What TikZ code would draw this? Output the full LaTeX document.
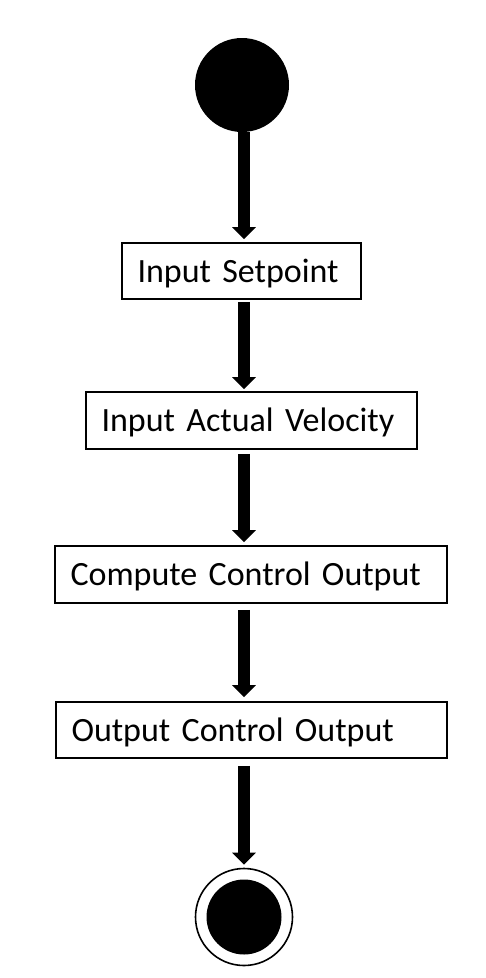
\documentclass[tikz,border=0pt]{standalone}
\usepackage{fontspec}
\setmainfont{Carlito}
\usetikzlibrary{arrows.meta,calc}
\begin{document}
\begin{tikzpicture}[x=1pt,y=-1pt,
  box/.style={draw=black,line width=1.6pt,rectangle,inner xsep=15.5pt,inner ysep=0pt,
    align=left,font=\fontsize{34}{40}\selectfont,anchor=center,text height=22pt,text depth=0pt},
  flow/.style={line width=11.5pt,-{Triangle[width=23pt,length=12pt]}}]
\useasboundingbox (0,0) rectangle (486,978);
\fill[white] (0,0) rectangle (486,978);
\node[circle,fill=black,minimum size=94pt,inner sep=0pt] (start) at (242,85) {};
\node[box,minimum width=239pt,minimum height=56pt,text width=208pt] (b1) at (241.5,271) {Input Setpoint};
\node[box,minimum width=331pt,minimum height=57pt,text width=300pt] (b2) at (251.5,420.5) {Input Actual Velocity};
\node[box,minimum width=392pt,minimum height=57pt,text width=361pt] (b3) at (251,574.5) {Compute Control Output};
\node[box,minimum width=391pt,minimum height=56pt,text width=360pt] (b4) at (251.5,730) {Output Control Output};
\node[circle,draw=black,line width=1.6pt,minimum size=97pt,inner sep=0pt] (end) at (244,917) {};
\node[circle,fill=black,minimum size=75pt,inner sep=0pt] (endin) at (end) {};
\coordinate (ax) at (244,0);
\draw[flow,shorten >=3pt] (start.south -| ax) -- (b1.north -| ax);
\draw[flow,shorten <=2pt,shorten >=2pt] (b1.south -| ax) -- (b2.north -| ax);
\draw[flow,shorten <=4pt,shorten >=3pt] (b2.south -| ax) -- (b3.north -| ax);
\draw[flow,shorten <=6pt,shorten >=4pt] (b3.south -| ax) -- (b4.north -| ax);
\draw[flow,shorten <=7pt,shorten >=3pt] (b4.south -| ax) -- (end.north);
\end{tikzpicture}
\end{document}
